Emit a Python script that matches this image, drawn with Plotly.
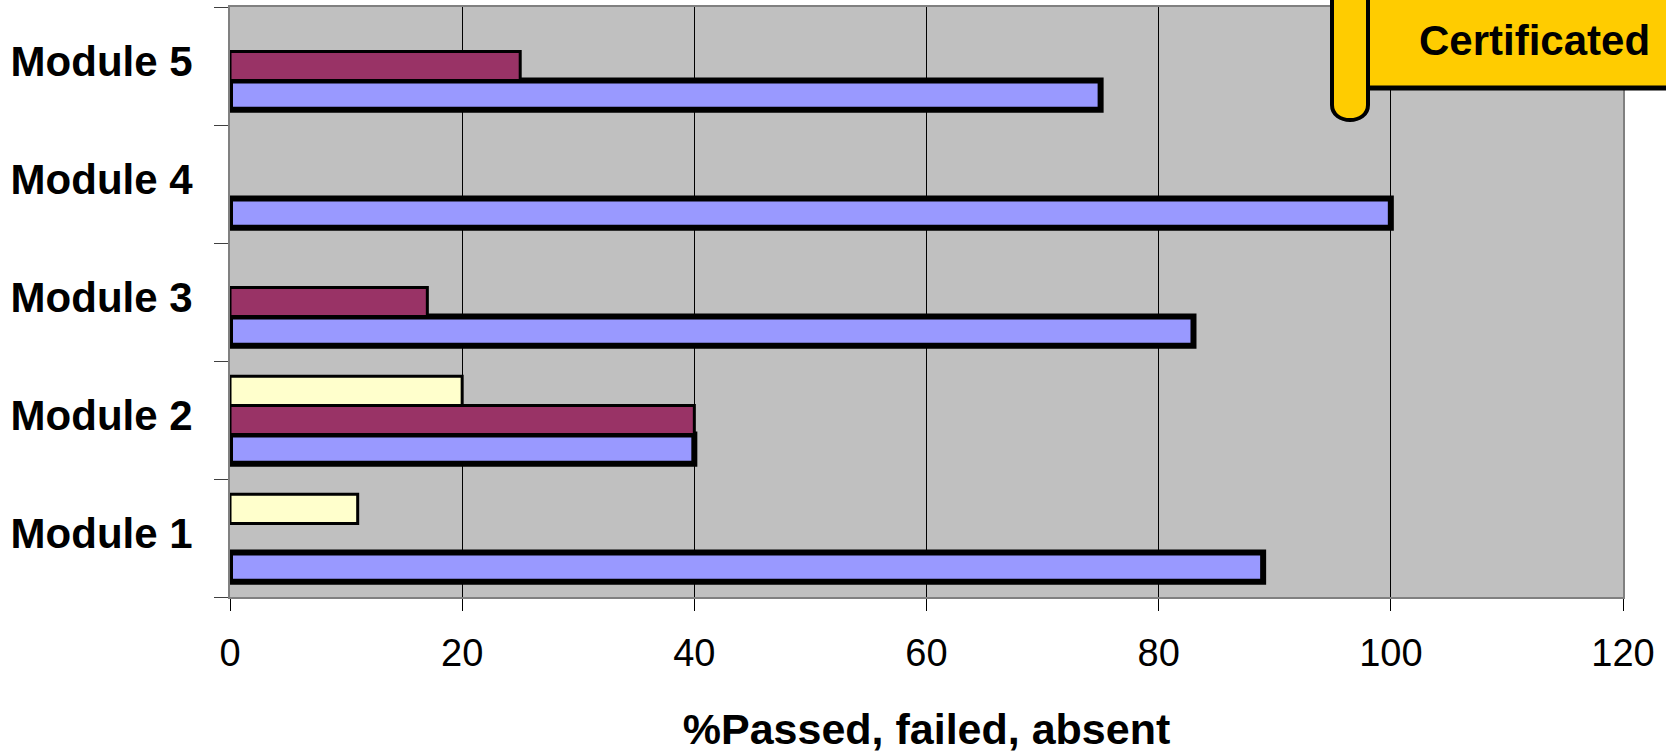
import plotly.graph_objects as go

modules = ["Module 1", "Module 2", "Module 3", "Module 4", "Module 5"]
passed = [89, 40, 83, 100, 75]
failed = [None, 40, 17, None, 25]
absent = [11, 20, None, None, None]
x_ticks = [0, 20, 40, 60, 80, 100, 120]

W, H = 1666, 753
L, R, T, B = 230, 1623, 7, 597

def px(x):
    return (x - L) / (R - L)

def py(y):
    return (B - y) / (B - T)

FONT = "Liberation Sans, Arial, sans-serif"

fig = go.Figure()
fig.add_trace(go.Bar(y=modules, x=passed, orientation="h", name="Passed",
                     marker=dict(color="#9999FF", line=dict(color="black", width=6))))
fig.add_trace(go.Bar(y=modules, x=failed, orientation="h", name="Failed",
                     marker=dict(color="#993366", line=dict(color="black", width=3))))
fig.add_trace(go.Bar(y=modules, x=absent, orientation="h", name="Absent",
                     marker=dict(color="#FFFFCC", line=dict(color="black", width=3))))

# Certificated banner
rect_path = (f"M {px(1367)},{py(-20)} L {px(1700)},{py(-20)} L {px(1700)},{py(88)} "
             f"L {px(1367)},{py(88)} Z")
r = 18
cx0, cx1, cyb = 1332, 1368, 123
strip_path = (f"M {px(cx0)},{py(-20)} L {px(cx1)},{py(-20)} L {px(cx1)},{py(cyb - r)} "
              f"C {px(cx1)},{py(cyb + 2)} {px(cx0)},{py(cyb + 2)} {px(cx0)},{py(cyb - r)} Z")
shapes = [
    dict(type="path", xref="paper", yref="paper", path=rect_path,
         fillcolor="#FFCC00", line=dict(color="black", width=5), layer="above"),
    dict(type="path", xref="paper", yref="paper", path=strip_path,
         fillcolor="#FFCC00", line=dict(color="black", width=4), layer="above"),
]

fig.update_layout(
    width=W, height=H,
    margin=dict(l=L, r=W - R, t=T, b=H - B, pad=0, autoexpand=False),
    paper_bgcolor="white",
    plot_bgcolor="#C0C0C0",
    barmode="group",
    bargap=0.26,
    bargroupgap=0,
    showlegend=False,
    font=dict(family=FONT, color="black"),
    shapes=shapes,
    annotations=[dict(text="<b>Certificated</b>", x=px(1534), y=py(41), xref="paper", yref="paper",
                      showarrow=False, xanchor="center", yanchor="middle",
                      font=dict(family=FONT, size=42, color="black"))],
    xaxis=dict(
        range=[0, 120], tickvals=x_ticks, ticktext=[str(v) for v in x_ticks],
        showgrid=True, gridcolor="black", gridwidth=1, zeroline=False,
        ticks="outside", ticklen=12, tickcolor="black", tickwidth=1,
        showline=True, linecolor="#808080", linewidth=2, mirror=True,
        tickfont=dict(family=FONT, size=38, color="black"),
        ticklabelstandoff=9,
        automargin=False,
        title=dict(text="<b>%Passed, failed, absent</b>", standoff=49,
                   font=dict(family=FONT, size=43, color="black")),
        fixedrange=True,
    ),
    yaxis=dict(
        categoryorder="array", categoryarray=modules,
        showgrid=False, zeroline=False,
        ticks="outside", tickson="boundaries", ticklen=14, tickcolor="#404040", tickwidth=1,
        showline=True, linecolor="#808080", linewidth=2, mirror=True,
        tickfont=dict(family=FONT, size=42, color="black"),
        tickprefix="<b>", ticksuffix="</b>",
        ticklabelstandoff=27,
        ticklabelshift=-5,
        automargin=False,
        fixedrange=True,
    ),
)

fig.write_html("out.html",
               config={"displayModeBar": False},
               post_script="document.body.style.margin='0';document.body.style.overflow='hidden';")
